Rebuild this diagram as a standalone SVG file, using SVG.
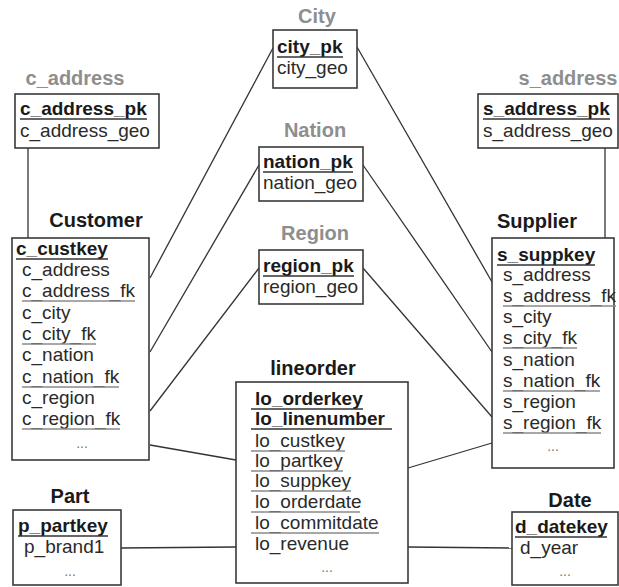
<svg xmlns="http://www.w3.org/2000/svg" width="619" height="587" viewBox="0 0 619 587">
<style>
  .box { fill: #ffffff; stroke: #3a3a3a; stroke-width: 1.6; }
  .t { font-family: "Liberation Sans", Arial, sans-serif; font-size: 19px; fill: #2a2a2a; }
  .k { font-family: "Liberation Sans", Arial, sans-serif; font-size: 19px; font-weight: bold; fill: #1a1a1a; }
  .title { font-family: "Liberation Sans", Arial, sans-serif; font-size: 20px; font-weight: bold; fill: #1a1a1a; text-anchor: middle; }
  .gtitle { font-family: "Liberation Sans", Arial, sans-serif; font-size: 20px; font-weight: bold; fill: #8e8e8e; text-anchor: middle; }
  .dots { font-family: "Liberation Sans", Arial, sans-serif; font-size: 14px; fill: #777777; text-anchor: middle; }
  .uk { stroke: #333333; stroke-width: 1.5; }
  .uf { stroke: #8a8a8a; stroke-width: 1.5; }
  .conn line { stroke: #333333; stroke-width: 1.3; fill: none; }
</style>

<g id="connectors" class="conn">
  <line x1="28" y1="148" x2="28" y2="238"/>
  <line x1="605" y1="148" x2="605" y2="238"/>
  <line x1="273" y1="48" x2="150" y2="278"/>
  <line x1="357" y1="47" x2="492" y2="282"/>
  <line x1="259" y1="165" x2="150" y2="352"/>
  <line x1="363" y1="165" x2="492" y2="352"/>
  <line x1="259" y1="268" x2="150" y2="411"/>
  <line x1="363" y1="268" x2="492" y2="417"/>
  <line x1="150" y1="445" x2="236" y2="460"/>
  <line x1="492" y1="443" x2="408" y2="468"/>
  <line x1="121" y1="548" x2="236" y2="547"/>
  <line x1="408" y1="547" x2="512" y2="548"/>
</g>

<g id="c_address">
  <text class="gtitle" x="75" y="85">c_address</text>
  <rect class="box" x="15" y="94" width="144" height="54"/>
  <text class="k" x="20" y="115">c_address_pk</text>
  <line class="uk" x1="20" y1="119" x2="147" y2="119"/>
  <text class="t" x="20" y="137">c_address_geo</text>
</g>

<g id="city">
  <text class="gtitle" x="317" y="23">City</text>
  <rect class="box" x="273" y="30" width="84" height="58"/>
  <text class="k" x="277" y="53">city_pk</text>
  <line class="uk" x1="277" y1="57" x2="343" y2="57"/>
  <text class="t" x="277" y="74">city_geo</text>
</g>

<g id="nation">
  <text class="gtitle" x="315" y="137">Nation</text>
  <rect class="box" x="259" y="147" width="104" height="54"/>
  <text class="k" x="263" y="168">nation_pk</text>
  <line class="uk" x1="263" y1="172" x2="353" y2="172"/>
  <text class="t" x="263" y="189">nation_geo</text>
</g>

<g id="region">
  <text class="gtitle" x="315" y="240">Region</text>
  <rect class="box" x="259" y="250" width="104" height="54"/>
  <text class="k" x="263" y="272">region_pk</text>
  <line class="uk" x1="263" y1="276" x2="354" y2="276"/>
  <text class="t" x="263" y="293">region_geo</text>
</g>

<g id="s_address">
  <text class="gtitle" x="568" y="85">s_address</text>
  <rect class="box" x="478" y="94" width="140" height="54"/>
  <text class="k" x="483" y="115">s_address_pk</text>
  <line class="uk" x1="483" y1="119" x2="610" y2="119"/>
  <text class="t" x="483" y="137">s_address_geo</text>
</g>

<g id="customer">
  <text class="title" x="96" y="227">Customer</text>
  <rect class="box" x="12" y="238" width="137" height="222"/>
  <text class="k" x="16" y="255">c_custkey</text>
  <line class="uk" x1="16" y1="259" x2="108" y2="259"/>
  <text class="t" x="22" y="276">c_address</text>
  <text class="t" x="22" y="297">c_address_fk</text>
  <line class="uf" x1="22" y1="301" x2="135" y2="301"/>
  <text class="t" x="22" y="319">c_city</text>
  <text class="t" x="22" y="340">c_city_fk</text>
  <line class="uf" x1="22" y1="344" x2="96" y2="344"/>
  <text class="t" x="22" y="361">c_nation</text>
  <text class="t" x="22" y="383">c_nation_fk</text>
  <line class="uf" x1="22" y1="387" x2="119" y2="387"/>
  <text class="t" x="22" y="404">c_region</text>
  <text class="t" x="22" y="425">c_region_fk</text>
  <line class="uf" x1="22" y1="429" x2="120" y2="429"/>
  <text class="dots" x="82" y="448">...</text>
</g>

<g id="supplier">
  <text class="title" x="537" y="228">Supplier</text>
  <rect class="box" x="492" y="238" width="122" height="230"/>
  <text class="k" x="497" y="261">s_suppkey</text>
  <line class="uk" x1="497" y1="265" x2="595" y2="265"/>
  <text class="t" x="503" y="281">s_address</text>
  <text class="t" x="503" y="302">s_address_fk</text>
  <line class="uf" x1="503" y1="306" x2="616" y2="306"/>
  <text class="t" x="503" y="323">s_city</text>
  <text class="t" x="503" y="344">s_city_fk</text>
  <line class="uf" x1="503" y1="348" x2="577" y2="348"/>
  <text class="t" x="503" y="366">s_nation</text>
  <text class="t" x="503" y="387">s_nation_fk</text>
  <line class="uf" x1="503" y1="391" x2="600" y2="391"/>
  <text class="t" x="503" y="408">s_region</text>
  <text class="t" x="503" y="429">s_region_fk</text>
  <line class="uf" x1="503" y1="433" x2="601" y2="433"/>
  <text class="dots" x="553" y="451">...</text>
</g>

<g id="lineorder">
  <text class="title" x="313" y="375">lineorder</text>
  <rect class="box" x="236" y="382" width="172" height="201"/>
  <text class="k" x="255" y="405">lo_orderkey</text>
  <line class="uk" x1="251" y1="409" x2="363" y2="409"/>
  <text class="k" x="255" y="425">lo_linenumber</text>
  <line class="uk" x1="251" y1="429" x2="392" y2="429"/>
  <text class="t" x="255" y="447">lo_custkey</text>
  <line class="uf" x1="251" y1="451" x2="345" y2="451"/>
  <text class="t" x="255" y="467">lo_partkey</text>
  <line class="uf" x1="251" y1="471" x2="343" y2="471"/>
  <text class="t" x="255" y="487">lo_suppkey</text>
  <line class="uf" x1="251" y1="491" x2="351" y2="491"/>
  <text class="t" x="255" y="508">lo_orderdate</text>
  <line class="uf" x1="251" y1="512" x2="360" y2="512"/>
  <text class="t" x="255" y="529">lo_commitdate</text>
  <line class="uf" x1="251" y1="533" x2="379" y2="533"/>
  <text class="t" x="255" y="550">lo_revenue</text>
  <text class="dots" x="327" y="572">...</text>
</g>

<g id="part">
  <text class="title" x="70" y="503">Part</text>
  <rect class="box" x="13" y="510" width="108" height="75"/>
  <text class="k" x="18" y="532">p_partkey</text>
  <line class="uk" x1="18" y1="536" x2="108" y2="536"/>
  <text class="t" x="24" y="553">p_brand1</text>
  <text class="dots" x="70" y="576">...</text>
</g>

<g id="date">
  <text class="title" x="570" y="507">Date</text>
  <rect class="box" x="512" y="512" width="106" height="73"/>
  <text class="k" x="515" y="533">d_datekey</text>
  <line class="uk" x1="515" y1="537" x2="607" y2="537"/>
  <text class="t" x="520" y="554">d_year</text>
  <text class="dots" x="565" y="576">...</text>
</g>
</svg>
